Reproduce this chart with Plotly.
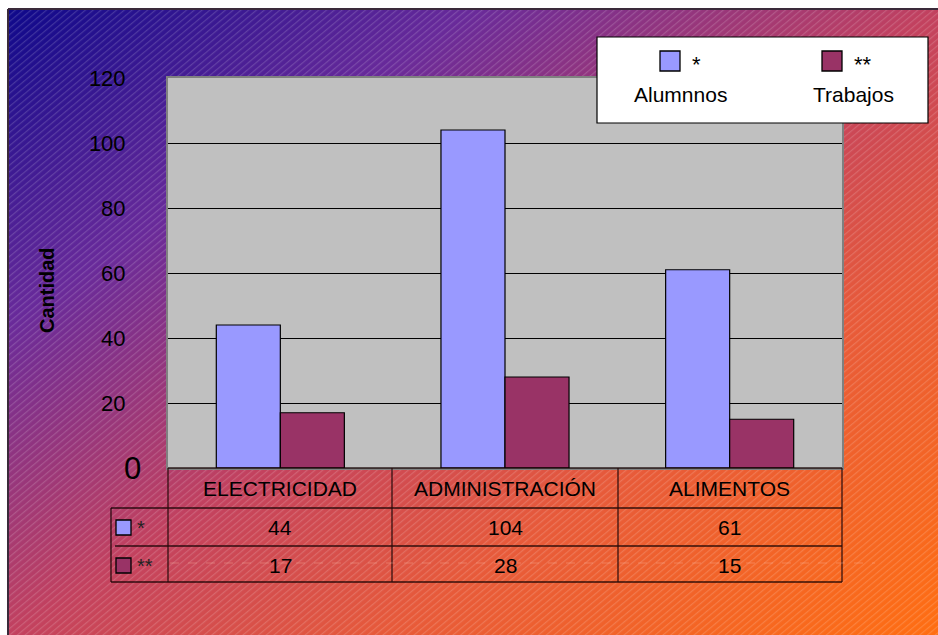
import base64
import plotly.graph_objects as go

# ---------------- data ----------------
categories = ["ELECTRICIDAD", "ADMINISTRACIÓN", "ALIMENTOS"]
series_names = ["*", "**"]
series_desc = ["Alumnnos", "Trabajos"]
alumnos = [44, 104, 61]
trabajos = [17, 28, 15]
series_values = [alumnos, trabajos]
series_colors = ["#9999FF", "#993366"]
y_ticks = [20, 40, 60, 80, 100, 120]
y_title = "Cantidad"

W, H = 938, 635
FONT = "Liberation Sans, Arial, sans-serif"


def px(x):
    return x / W


def py(y):
    return 1 - y / H


fig = go.Figure()
for name, vals, col in zip(series_names, series_values, series_colors):
    fig.add_trace(go.Bar(x=categories, y=vals, name=name, marker_color=col,
                         marker_line_color="black", marker_line_width=1.2,
                         showlegend=False))

# ---------------- background (gradient + hatching) ----------------
svg = """<svg xmlns="http://www.w3.org/2000/svg" width="930" height="626" viewBox="0 0 930 626" preserveAspectRatio="none">
<defs>
<linearGradient id="g" x1="0" y1="0" x2="1" y2="1">
<stop offset="0" stop-color="#0e088a"/>
<stop offset="0.25" stop-color="#682a9a"/>
<stop offset="0.5" stop-color="#c2415f"/>
<stop offset="0.7" stop-color="#e75a3a"/>
<stop offset="1" stop-color="#ff6e12"/>
</linearGradient>
<pattern id="h" width="5" height="5" patternUnits="userSpaceOnUse" patternTransform="rotate(50)">
<rect x="0" y="0" width="1.2" height="5" fill="#ffffff" fill-opacity="0.16"/>
</pattern>
</defs>
<rect width="930" height="626" fill="url(#g)"/>
<rect width="930" height="626" fill="url(#h)"/>
</svg>"""
src = "data:image/svg+xml;base64," + base64.b64encode(svg.encode()).decode()

images = [dict(source=src, xref="paper", yref="paper", x=px(8), y=py(9),
               sizex=930 / W, sizey=626 / H, xanchor="left", yanchor="top",
               sizing="stretch", layer="below")]

shapes = []
annotations = []


def note(x, y, text, size=20, xref="paper", yref="paper", xanchor="center",
         color="black", **kw):
    annotations.append(dict(x=x, y=y, xref=xref, yref=yref, text=text,
                            xanchor=xanchor, yanchor="middle", showarrow=False,
                            font=dict(family=FONT, size=size, color=color), **kw))


# plot-area fill (drawn above the background image, below grid and bars)
shapes.append(dict(type="rect", xref="paper", yref="paper", layer="below",
                   x0=px(168), x1=px(842), y0=py(468), y1=py(78),
                   fillcolor="#C0C0C0", line=dict(width=0)))

# outer frame (left + top)
shapes.append(dict(type="line", xref="paper", yref="paper", x0=px(8), x1=px(8),
                   y0=py(9), y1=py(635), line=dict(color="#3a2a3a", width=2)))
shapes.append(dict(type="line", xref="paper", yref="paper", x0=px(8), x1=px(938),
                   y0=py(9), y1=py(9), line=dict(color="#3a2a3a", width=2)))

# ---------------- data table ----------------
tcol = "rgba(20,0,0,0.85)"
for (x0, x1, y) in [(168, 842, 468), (111, 842, 508), (115, 842, 546), (111, 842, 582)]:
    shapes.append(dict(type="line", xref="paper", yref="paper", x0=px(x0), x1=px(x1),
                       y0=py(y), y1=py(y), line=dict(color=tcol, width=1.3)))
shapes.append(dict(type="line", xref="paper", yref="paper", x0=px(111), x1=px(111),
                   y0=py(508), y1=py(582), line=dict(color=tcol, width=1.3)))
for x in [168, 392, 618, 842]:
    shapes.append(dict(type="line", xref="paper", yref="paper", x0=px(x), x1=px(x),
                       y0=py(468), y1=py(582), line=dict(color="rgba(40,10,10,0.8)", width=1.5)))
# faint dashed artefact line
shapes.append(dict(type="line", xref="paper", yref="paper", x0=px(170), x1=px(875),
                   y0=py(563), y1=py(563),
                   line=dict(color="rgba(255,190,170,0.35)", width=1, dash="dash")))

row_y = [527, 565]
for cat in categories:
    note(cat, py(488), cat, size=21, xref="x")
for r, (name, vals, col) in enumerate(zip(series_names, series_values, series_colors)):
    for cat, v in zip(categories, vals):
        note(cat, py(row_y[r]), str(v), size=21, xref="x")
    # key square + label
    shapes.append(dict(type="rect", xref="paper", yref="paper", x0=px(116), x1=px(131),
                       y0=py(row_y[r] - 7), y1=py(row_y[r] + 8), fillcolor=col,
                       line=dict(color="black", width=1.3)))
    note(px(135), py(row_y[r] + 1), name, size=20, xanchor="left", color="#222")

# ---------------- legend box ----------------
shapes.append(dict(type="rect", xref="paper", yref="paper", x0=px(597), x1=px(928),
                   y0=py(37), y1=py(123), fillcolor="white",
                   line=dict(color="black", width=1.2)))
leg_sq_x = [660, 822]
leg_txt_x = [680, 853]
for i, (name, desc, col) in enumerate(zip(series_names, series_desc, series_colors)):
    sx = leg_sq_x[i]
    shapes.append(dict(type="rect", xref="paper", yref="paper", x0=px(sx), x1=px(sx + 20),
                       y0=py(51), y1=py(71), fillcolor=col,
                       line=dict(color="black", width=1.3)))
    note(px(sx + 30), py(64), name, size=22, xanchor="left")
    note(px(leg_txt_x[i]), py(95), desc, size=21)

# zero label (larger) and axis title
note(px(143), 0, "0", size=31, yref="y", xanchor="right")
note(px(47), py(290), "<b>" + y_title + "</b>", size=20, textangle=-90)

fig.update_layout(
    width=W, height=H,
    margin=dict(l=0, r=0, t=0, b=0, pad=0),
    paper_bgcolor="white",
    plot_bgcolor="rgba(0,0,0,0)",
    barmode="group", bargap=0.43, bargroupgap=0,
    images=images, shapes=shapes, annotations=annotations,
    xaxis=dict(domain=[px(168), px(842)], showticklabels=False, showgrid=False,
               showline=True, linecolor="#808080", linewidth=2, mirror=True,
               zeroline=False, fixedrange=True, automargin=False),
    yaxis=dict(domain=[py(468), py(78)], range=[0, 120], tickvals=y_ticks,
               showgrid=True, gridcolor="black", gridwidth=1,
               showline=True, linecolor="#808080", linewidth=2, mirror=True,
               zeroline=False, ticks="", ticklabelstandoff=36, automargin=False,
               tickfont=dict(family=FONT, size=22, color="black")),
    showlegend=False,
    font=dict(family=FONT),
)

fig.write_html("out.html")
